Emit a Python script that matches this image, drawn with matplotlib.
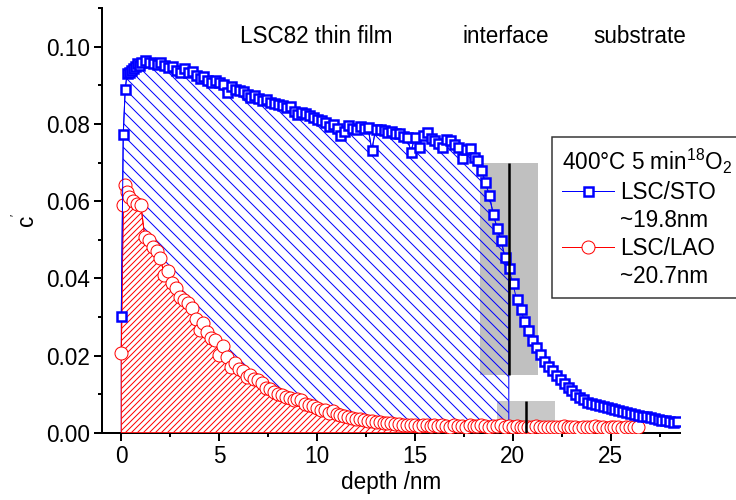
import numpy as np
import matplotlib
matplotlib.use('Agg')
import matplotlib.pyplot as plt
from matplotlib.lines import Line2D
from matplotlib.ticker import MultipleLocator, FormatStrFormatter

plt.rcParams['font.family'] = ['Liberation Sans', 'DejaVu Sans']
plt.rcParams['mathtext.fontset'] = 'custom'
plt.rcParams['mathtext.rm'] = 'Liberation Sans'
plt.rcParams['mathtext.it'] = 'Liberation Sans'
plt.rcParams['hatch.linewidth'] = 1.0

# LSC/STO profile (squares)
depth_sto = [0.0, 0.1, 0.2, 0.3, 0.4, 0.5, 0.6, 0.7, 0.8, 0.9, 1.0,
             1.2, 1.4, 1.6, 1.8, 2.0, 2.2, 2.4, 2.6, 2.8, 3.0,
             3.2, 3.4, 3.6, 3.8, 4.0, 4.2, 4.4, 4.6, 4.8, 5.0,
             5.2, 5.4, 5.6, 5.8, 6.0, 6.2, 6.4, 6.6, 6.8, 7.0,
             7.2, 7.4, 7.6, 7.8, 8.0, 8.2, 8.4, 8.6, 8.8, 9.0,
             9.2, 9.4, 9.6, 9.8, 10.0, 10.2, 10.4, 10.6, 10.8, 11.0,
             11.2, 11.4, 11.6, 11.8, 12.0, 12.2, 12.4, 12.6, 12.8, 13.0,
             13.2, 13.4, 13.6, 13.8, 14.0, 14.2, 14.4, 14.6, 14.8, 15.0,
             15.2, 15.4, 15.6, 15.8, 16.0, 16.2, 16.4, 16.6, 16.8, 17.0,
             17.2, 17.4, 17.6, 17.8, 18.0, 18.2, 18.4, 18.6, 18.8, 19.0,
             19.2, 19.4, 19.6, 19.8, 20.0, 20.2, 20.4, 20.6, 20.8, 21.0,
             21.2, 21.4, 21.6, 21.8, 22.0, 22.2, 22.4, 22.6, 22.8, 23.0,
             23.2, 23.4, 23.6, 23.8, 24.0, 24.2, 24.4, 24.6, 24.8, 25.0,
             25.2, 25.4, 25.6, 25.8, 26.0, 26.2, 26.4, 26.6, 26.8, 27.0,
             27.2, 27.4, 27.6, 27.8, 28.0, 28.2, 28.4]
c_sto = [0.0302, 0.0774, 0.0890, 0.0932, 0.0935, 0.0940, 0.0944, 0.0950, 0.0957, 0.0953, 0.0960,
         0.0967, 0.0962, 0.0958, 0.0955, 0.0961, 0.0952, 0.0948, 0.0950, 0.0940, 0.0935,
         0.0944, 0.0935, 0.0938, 0.0928, 0.0920, 0.0924, 0.0915, 0.0910, 0.0915, 0.0910,
         0.0905, 0.0884, 0.0898, 0.0892, 0.0888, 0.0885, 0.0878, 0.0870, 0.0874, 0.0868,
         0.0862, 0.0866, 0.0858, 0.0855, 0.0853, 0.0850, 0.0845, 0.0847, 0.0835, 0.0827,
         0.0832, 0.0828, 0.0823, 0.0818, 0.0812, 0.0810, 0.0806, 0.0795, 0.0800, 0.0790,
         0.0771, 0.0782, 0.0797, 0.0790, 0.0788, 0.0795, 0.0790, 0.0793, 0.0732, 0.0788,
         0.0786, 0.0784, 0.0779, 0.0782, 0.0778, 0.0776, 0.0770, 0.0767, 0.0728, 0.0767,
         0.0741, 0.0772, 0.0780, 0.0765, 0.0758, 0.0750, 0.0741, 0.0762, 0.0758, 0.0748,
         0.0740, 0.0711, 0.0735, 0.0737, 0.0715, 0.0706, 0.0680, 0.0650, 0.0615, 0.0568,
         0.0530, 0.0500, 0.0455, 0.0426, 0.0387, 0.0346, 0.0320, 0.0290, 0.0266, 0.0240,
         0.0222, 0.0205, 0.0185, 0.0172, 0.0162, 0.0150, 0.0140, 0.0128, 0.0118, 0.0110,
         0.0100, 0.0092, 0.0087, 0.0080, 0.0077, 0.0075, 0.0072, 0.0068, 0.0066, 0.0063,
         0.0061, 0.0058, 0.0055, 0.0054, 0.0050, 0.0048, 0.0046, 0.0043, 0.0042, 0.0041,
         0.0039, 0.0036, 0.0034, 0.0032, 0.0031, 0.0029, 0.0030]

# LSC/LAO profile (circles)
depth_lao = [0.0, 0.1, 0.2, 0.3, 0.4, 0.6, 0.8, 1.0,
             1.2, 1.4, 1.6, 1.8, 2.0, 2.2, 2.4, 2.6, 2.8, 3.0,
             3.2, 3.4, 3.6, 3.8, 4.0, 4.2, 4.4, 4.6, 4.8, 5.0,
             5.2, 5.4, 5.6, 5.8, 6.0, 6.2, 6.4, 6.6, 6.8, 7.0,
             7.2, 7.4, 7.6, 7.8, 8.0, 8.2, 8.4, 8.6, 8.8, 9.0,
             9.2, 9.4, 9.6, 9.8, 10.0, 10.2, 10.4, 10.6, 10.8, 11.0,
             11.2, 11.4, 11.6, 11.8, 12.0, 12.2, 12.4, 12.6, 12.8, 13.0,
             13.2, 13.4, 13.6, 13.8, 14.0, 14.2, 14.4, 14.6, 14.8, 15.0,
             15.2, 15.4, 15.6, 15.8, 16.0, 16.2, 16.4, 16.6, 16.8, 17.0,
             17.2, 17.4, 17.6, 17.8, 18.0, 18.2, 18.4, 18.6, 18.8, 19.0,
             19.2, 19.4, 19.6, 19.8, 20.0, 20.2, 20.4, 20.6, 20.8, 21.0,
             21.2, 21.4, 21.6, 21.8, 22.0, 22.2, 22.4, 22.6, 22.8, 23.0,
             23.2, 23.4, 23.6, 23.8, 24.0, 24.2, 24.4, 24.6, 24.8, 25.0,
             25.2, 25.4, 25.6, 25.8, 26.0, 26.2, 26.4]
c_lao = [0.0206, 0.0590, 0.0642, 0.0625, 0.0611, 0.0600, 0.0592, 0.0590,
         0.0508, 0.0500, 0.0482, 0.0470, 0.0452, 0.0408, 0.0420, 0.0387, 0.0375, 0.0352,
         0.0345, 0.0335, 0.0322, 0.0294, 0.0266, 0.0285, 0.0262, 0.0245, 0.0240, 0.0201,
         0.0225, 0.0195, 0.0171, 0.0180, 0.0165, 0.0160, 0.0145, 0.0150, 0.0140, 0.0137,
         0.0128, 0.0115, 0.0112, 0.0106, 0.0100, 0.0098, 0.0093, 0.0090, 0.0085, 0.0088,
         0.0085, 0.0075, 0.0072, 0.0068, 0.0063, 0.0060, 0.0058, 0.0052, 0.0055, 0.0048,
         0.0046, 0.0042, 0.0040, 0.0038, 0.0036, 0.0035, 0.0033, 0.0030, 0.0031, 0.0028,
         0.0027, 0.0026, 0.0024, 0.0024, 0.0022, 0.0023, 0.0021, 0.0020, 0.0019, 0.0020,
         0.0018, 0.0019, 0.0020, 0.0018, 0.0019, 0.0017, 0.0020, 0.0018, 0.0016, 0.0019,
         0.0017, 0.0018, 0.0016, 0.0019, 0.0017, 0.0018, 0.0020, 0.0017, 0.0016, 0.0018,
         0.0017, 0.0019, 0.0016, 0.0017, 0.0015, 0.0017, 0.0016, 0.0014, 0.0016, 0.0015,
         0.0017, 0.0014, 0.0016, 0.0015, 0.0014, 0.0016, 0.0015, 0.0017, 0.0014, 0.0016,
         0.0015, 0.0013, 0.0016, 0.0014, 0.0015, 0.0017, 0.0014, 0.0016, 0.0013, 0.0015,
         0.0014, 0.0016, 0.0013, 0.0015, 0.0014, 0.0016, 0.0014]

# interface positions and their uncertainty bands
interface_sto = 19.8
interface_lao = 20.7
interface_err = 1.48
band_sto = (0.015, 0.070)
band_lao = (0.0, 0.0083)

x_sto = np.array(depth_sto)
y_sto = np.array(c_sto)
x_lao = np.array(depth_lao)
y_lao = np.array(c_lao)

FS = 22.5

fig = plt.figure(figsize=(736 / 72, 500 / 72), dpi=72)
ax = fig.add_axes([0.139, 0.1346, 0.785, 0.8488])

# grey uncertainty boxes
ax.fill_between([interface_sto - interface_err, interface_sto + interface_err],
                band_sto[0], band_sto[1], color='#c0c0c0', lw=0, zorder=1)
ax.fill_between([interface_lao - interface_err, interface_lao + interface_err],
                band_lao[0], band_lao[1], color='#c8c8c8', lw=0, zorder=1)

# hatched areas
m = x_sto <= interface_sto
ax.fill_between(x_sto[m], 0, y_sto[m], facecolor='none', edgecolor='blue',
                hatch='\\\\', lw=1, zorder=2)
ax.fill_between(x_lao, 0, y_lao, facecolor='white', edgecolor='red',
                hatch='////', lw=1, zorder=3)

l_lao, = ax.plot(x_lao, y_lao, '-o', color='red', lw=1, ms=13, mfc='white',
                 mec='red', mew=1, zorder=5)
l_sto, = ax.plot(x_sto, y_sto, '-s', color='blue', lw=1, ms=9, mfc='white',
                 mec='blue', mew=2.5, zorder=6)

ax.vlines(interface_sto, band_sto[0], band_sto[1], color='black', lw=2.5, zorder=7)
ax.vlines(interface_lao, band_lao[0], band_lao[1], color='black', lw=2.5, zorder=7)

ax.set_xlim(-0.97, 28.55)
ax.set_ylim(0, 0.11)
ax.spines['top'].set_visible(False)
ax.spines['right'].set_visible(False)
ax.spines['left'].set_linewidth(2)
ax.spines['bottom'].set_linewidth(2)
ax.xaxis.set_major_locator(MultipleLocator(5))
ax.xaxis.set_minor_locator(MultipleLocator(2.5))
ax.yaxis.set_major_locator(MultipleLocator(0.02))
ax.yaxis.set_minor_locator(MultipleLocator(0.01))
ax.yaxis.set_major_formatter(FormatStrFormatter('%.2f'))
ax.tick_params(which='major', direction='out', length=8, width=2, labelsize=FS, pad=4)
ax.tick_params(which='minor', direction='out', length=4, width=2)

ax.set_xlabel('depth /nm', fontsize=FS, labelpad=3)
ax.set_ylabel(r"c$^{'}$", fontsize=FS, labelpad=6)

ax.text(9.95, 0.1010, 'LSC82 thin film', fontsize=FS, ha='center', va='baseline')
ax.text(19.66, 0.1010, 'interface', fontsize=FS, ha='center', va='baseline')
ax.text(26.5, 0.1010, 'substrate', fontsize=FS, ha='center', va='baseline')

blank = Line2D([], [], linestyle='none')
leg = ax.legend([l_sto, blank, l_lao, blank],
                ['LSC/STO', '~19.8nm', 'LSC/LAO', '~20.7nm'],
                title=r'400°C 5 min$^{18}$O$_2$', title_fontsize=FS, fontsize=FS,
                loc='upper left', bbox_to_anchor=(551.7 / 736, 1 - 136.7 / 500),
                bbox_transform=fig.transFigure, borderaxespad=0, borderpad=0.45,
                handlelength=2.3, handletextpad=0.3, labelspacing=0.22,
                frameon=True, fancybox=False, edgecolor='black', alignment='left')
leg.get_frame().set_linewidth(1.5)

fig.savefig('out.png', dpi=72)
